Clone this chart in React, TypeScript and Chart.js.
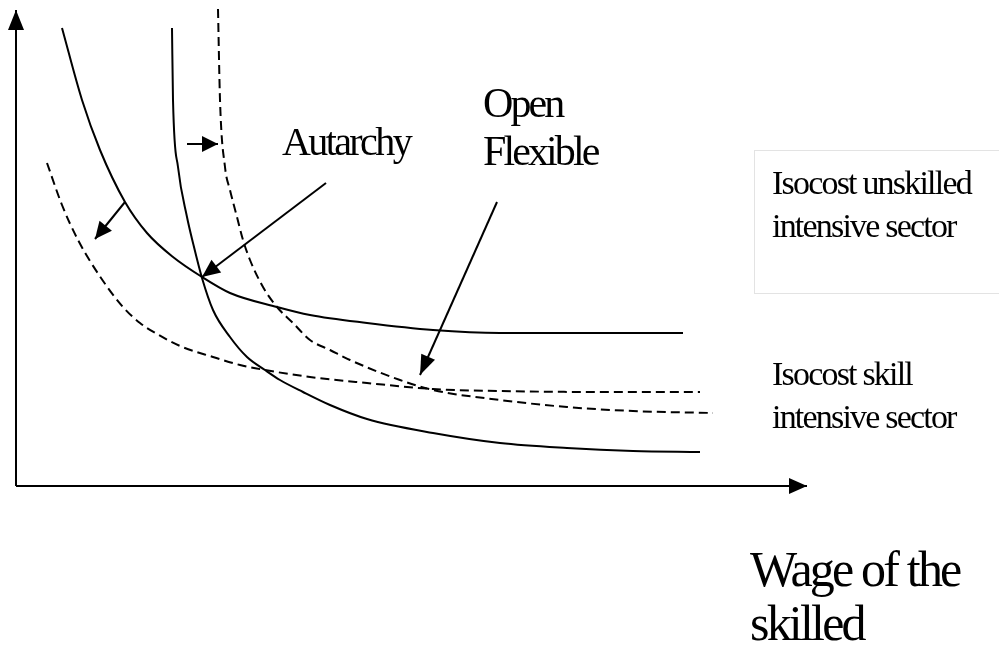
import { useEffect, useRef } from "react";
import { Chart, registerables } from "chart.js";

Chart.register(...registerables);

// Coordinates: x = wage of the skilled, y = wage of the unskilled (origin at the axes corner)
const isocostUnskilledAutarky: [number, number][] = [
  [46, 458], [66, 386], [84, 336], [109, 284], [131, 253], [157, 229], [186, 209],
  [214, 193], [261, 179], [294, 171], [351, 163], [417, 156], [484, 153], [551, 153], [667, 153],
];
const isocostSkillAutarky: [number, number][] = [
  [156, 458], [157, 386], [162, 319], [171, 269], [177, 243], [186, 208], [197, 176],
  [214, 149], [231, 129], [249, 116], [264, 106], [287, 94], [314, 81], [351, 67],
  [417, 53], [484, 43], [551, 38], [617, 35], [684, 34],
];
const isocostUnskilledOpen: [number, number][] = [
  [31, 323], [46, 281], [62, 246], [83, 211], [107, 179], [124, 163], [141, 152],
  [164, 140], [197, 129], [224, 121], [249, 116], [294, 109], [351, 103], [417, 97],
  [484, 95], [584, 94], [684, 94],
];
const isocostSkillOpen: [number, number][] = [
  [202, 477], [204, 386], [209, 319], [214, 296], [221, 269], [227, 246], [234, 226],
  [247, 199], [261, 179], [277, 163], [294, 146], [314, 136], [334, 126], [384, 106],
  [417, 96], [484, 86], [551, 79], [617, 75], [697, 73],
];

// axes extents
const xAxisEnd = 791;
const yAxisEnd = 476;

// arrows: from -> to
const arrowFrom: [number, number][] = [[0, 0], [0, 0], [109, 284], [171, 342], [310, 303], [481, 284]];
const arrowTo: [number, number][] = [[0, yAxisEnd], [xAxisEnd, 0], [79, 247], [202, 342], [186, 209], [404, 111]];
const arrowHeadLen = [20, 18, 17, 16, 18, 20];
const arrowHeadHalf = [8, 8, 8, 8, 8, 7.5];

// text labels
const labelTexts = [
  "Autarchy", "Open", "Flexible",
  "Isocost unskilled", "intensive sector",
  "Isocost skill", "intensive sector",
  "Wage of the", "skilled",
];
const labelPos: [number, number][] = [
  [266, 331], [467, 369], [467, 321],
  [756, 292], [756, 249],
  [756, 101], [756, 58],
  [734, -100], [734, -154],
];
const labelSize = [40, 42, 42, 34, 34, 34, 34, 50, 50];
const labelSpacing = [-2.6, -2.9, -2.9, -1.8, -1.8, -1.8, -1.8, -2.8, -2.8];

const boxCorners: [number, number][] = [[738, 336], [990, 193]];

const toXY = (arr: [number, number][]) => arr.map(([x, y]) => ({ x, y }));

export default function App() {
  const ref = useRef<HTMLCanvasElement>(null);
  useEffect(() => {
    const canvas = ref.current!;
    const overlay = {
      id: "overlay",
      beforeDatasetsDraw(chart: any) {
        const { ctx, scales } = chart;
        const X = (v: number) => scales.x.getPixelForValue(v);
        const Y = (v: number) => scales.y.getPixelForValue(v);
        ctx.save();
        ctx.strokeStyle = "#e3e3e3";
        ctx.lineWidth = 1;
        const x0 = X(boxCorners[0][0]), y0 = Y(boxCorners[0][1]);
        const x1 = X(boxCorners[1][0]) + 20, y1 = Y(boxCorners[1][1]);
        ctx.strokeRect(Math.round(x0) + 0.5, Math.round(y0) + 0.5, x1 - x0, y1 - y0);
        ctx.restore();
      },
      afterDatasetsDraw(chart: any) {
        const { ctx, scales } = chart;
        const X = (v: number) => scales.x.getPixelForValue(v);
        const Y = (v: number) => scales.y.getPixelForValue(v);
        ctx.save();
        ctx.fillStyle = "#000";
        arrowFrom.forEach((f, i) => {
          const t = arrowTo[i];
          const fx = X(f[0]), fy = Y(f[1]), tx = X(t[0]), ty = Y(t[1]);
          const ang = Math.atan2(ty - fy, tx - fx);
          const L = arrowHeadLen[i], H = arrowHeadHalf[i];
          const bx = tx - L * Math.cos(ang), by = ty - L * Math.sin(ang);
          ctx.beginPath();
          ctx.moveTo(tx, ty);
          ctx.lineTo(bx + H * Math.sin(ang), by - H * Math.cos(ang));
          ctx.lineTo(bx - H * Math.sin(ang), by + H * Math.cos(ang));
          ctx.closePath();
          ctx.fill();
        });
        ctx.textBaseline = "alphabetic";
        ctx.textAlign = "left";
        labelTexts.forEach((txt, i) => {
          ctx.font = `${labelSize[i]}px "Liberation Serif", "Times New Roman", serif`;
          (ctx as any).letterSpacing = `${labelSpacing[i]}px`;
          ctx.fillText(txt, X(labelPos[i][0]), Y(labelPos[i][1]));
        });
        ctx.restore();
      },
    };

    const solid = {
      borderColor: "#000", borderWidth: 2, pointRadius: 0, showLine: true,
      cubicInterpolationMode: "monotone", fill: false,
    };
    const dashed = { ...solid, borderDash: [9, 5] };
    const axis = { borderColor: "#000", borderWidth: 2, pointRadius: 0, showLine: true, tension: 0, fill: false };
    const shaft = { borderColor: "#000", borderWidth: 2, pointRadius: 0, showLine: true, tension: 0, fill: false };

    const arrowSets = arrowFrom.map((f, i) => ({
      ...(i < 2 ? axis : shaft),
      label: `arrow${i}`,
      data: toXY([f, arrowTo[i]]),
    }));

    const chart = new Chart(canvas, {
      type: "scatter",
      data: {
        datasets: [
          { ...solid, label: "Isocost unskilled (autarchy)", data: toXY(isocostUnskilledAutarky) },
          { ...solid, label: "Isocost skill (autarchy)", data: toXY(isocostSkillAutarky) },
          { ...dashed, label: "Isocost unskilled (open flexible)", data: toXY(isocostUnskilledOpen) },
          { ...dashed, label: "Isocost skill (open flexible)", data: toXY(isocostSkillOpen) },
          ...arrowSets,
        ] as any,
      },
      options: {
        responsive: false,
        animation: false,
        devicePixelRatio: 1,
        layout: { padding: 0 },
        plugins: { legend: { display: false }, tooltip: { enabled: false } },
        scales: {
          x: { type: "linear", min: -16, max: 983, display: false },
          y: { type: "linear", min: -168, max: 486, display: false },
        },
      },
      plugins: [overlay],
    });
    return () => chart.destroy();
  }, []);

  return (
    <div style={{ position: "fixed", left: 0, top: 0, width: 999, height: 654, background: "#fff" }}>
      <canvas ref={ref} width={999} height={654} style={{ display: "block" }} />
    </div>
  );
}
